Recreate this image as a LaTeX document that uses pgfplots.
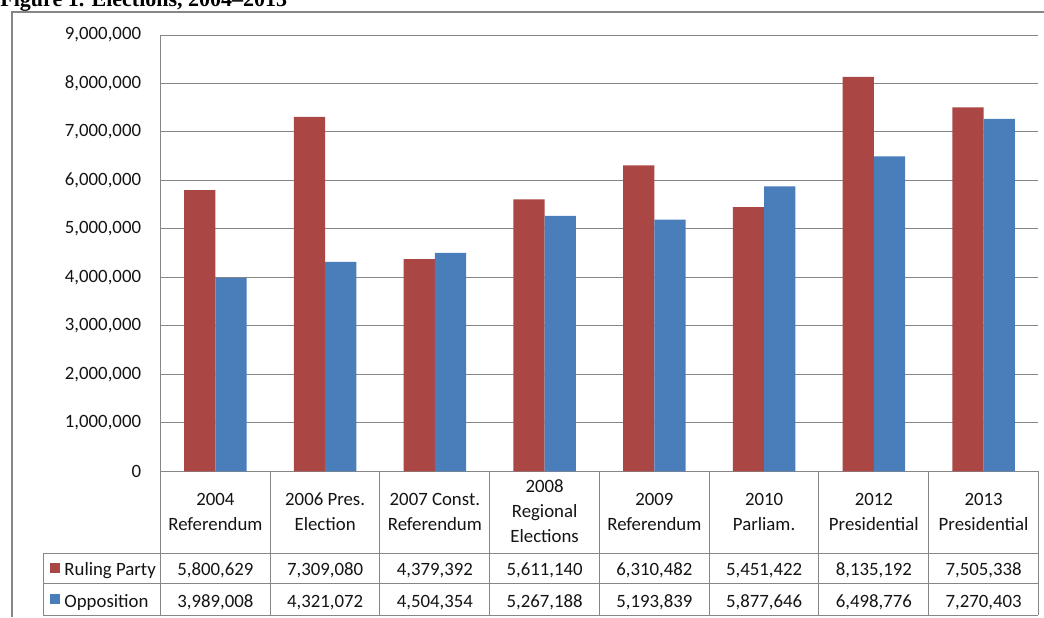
\documentclass[border=0pt]{standalone}
\usepackage{pgfplots}
\pgfplotsset{compat=1.18}
\usepackage{fontspec}
\setmainfont{Carlito}
\newfontfamily\titlefont{Liberation Serif}
\definecolor{ruling}{RGB}{170,70,68}
\definecolor{oppo}{RGB}{74,126,187}
\definecolor{gridc}{RGB}{134,134,134}
\definecolor{txt}{RGB}{20,20,20}

\begin{document}
\begin{tikzpicture}
\path[use as bounding box] (0,0) rectangle (522pt,308.5pt);
\clip (0,0) rectangle (522pt,308.5pt);
\node[anchor=base west, inner sep=0pt, font=\titlefont\bfseries\fontsize{11}{13}\selectfont] at (0pt,305pt) {Figure 1. Elections, 2004–2013};
\draw[gridc, line width=0.75pt] (6pt,0pt) -- (6pt,302.5pt) -- (522pt,302.5pt);
\begin{axis}[
  at={(80.25pt,72.85pt)}, anchor=south west,
  scale only axis, width=439pt, height=218.15pt,
  xmin=0, xmax=8, ymin=0, ymax=9000000,
  axis x line*=bottom, axis y line*=left,
  axis line style={gridc, line width=0.5pt, -},
  xtick=\empty,
  ytick={0,1000000,2000000,3000000,4000000,5000000,6000000,7000000,8000000,9000000},
  ymajorgrids, grid style={gridc, line width=0.5pt},
  major tick length=0pt,
  scaled y ticks=false,
  /pgf/number format/fixed,
  /pgf/number format/precision=0,
  /pgf/number format/1000 sep={,},
  /pgf/number format/assume math mode=true,
  tick label style={font=\fontsize{9.4}{11}\selectfont, text=txt},
  yticklabel style={xshift=-6.2pt},
  clip=false,
  ybar, bar width=0.285,
]
\addplot[fill=ruling, draw=none, bar shift=-0.1425] coordinates {
 (0.5,5800629) (1.5,7309080) (2.5,4379392) (3.5,5611140)
 (4.5,6310482) (5.5,5451422) (6.5,8135192) (7.5,7505338)};
\addplot[fill=oppo, draw=none, bar shift=0.1425] coordinates {
 (0.5,3989008) (1.5,4321072) (2.5,4504354) (3.5,5267188)
 (4.5,5193839) (5.5,5877646) (6.5,6498776) (7.5,7270403)};

% table grid
\draw[gridc, line width=0.5pt]
  (axis cs:-1.0706,-1685300) -- (axis cs:8,-1685300)
  (axis cs:-1.0706,-2304100) -- (axis cs:8,-2304100)
  (axis cs:-1.0706,-2964200) -- (axis cs:8,-2964200)
  (axis cs:-1.0706,-1685300) -- (axis cs:-1.0706,-2964200)
  (axis cs:0,0) -- (axis cs:0,-2964200)
  (axis cs:1,0) -- (axis cs:1,-2964200)
  (axis cs:2,0) -- (axis cs:2,-2964200)
  (axis cs:3,0) -- (axis cs:3,-2964200)
  (axis cs:4,0) -- (axis cs:4,-2964200)
  (axis cs:5,0) -- (axis cs:5,-2964200)
  (axis cs:6,0) -- (axis cs:6,-2964200)
  (axis cs:7,0) -- (axis cs:7,-2964200)
  (axis cs:8,0) -- (axis cs:8,-2964200);

\begin{scope}[every node/.style={font=\fontsize{9.4}{12.5}\selectfont, text=txt, align=center, inner sep=0pt}]
\node at (axis cs:0.5,-830000) {2004\\Referendum};
\node at (axis cs:1.5,-830000) {2006 Pres.\\Election};
\node at (axis cs:2.5,-830000) {2007 Const.\\Referendum};
\node at (axis cs:3.5,-830000) {2008\\Regional\\Elections};
\node at (axis cs:4.5,-830000) {2009\\Referendum};
\node at (axis cs:5.5,-830000) {2010\\Parliam.};
\node at (axis cs:6.5,-830000) {2012\\Presidential};
\node at (axis cs:7.5,-830000) {2013\\Presidential};
\end{scope}

\begin{scope}[every node/.style={font=\fontsize{9.4}{11}\selectfont, text=txt, inner sep=0pt, anchor=base}]
\node at (axis cs:0.5,-2139100) {5,800,629};
\node at (axis cs:1.5,-2139100) {7,309,080};
\node at (axis cs:2.5,-2139100) {4,379,392};
\node at (axis cs:3.5,-2139100) {5,611,140};
\node at (axis cs:4.5,-2139100) {6,310,482};
\node at (axis cs:5.5,-2139100) {5,451,422};
\node at (axis cs:6.5,-2139100) {8,135,192};
\node at (axis cs:7.5,-2139100) {7,505,338};
\node at (axis cs:0.5,-2799200) {3,989,008};
\node at (axis cs:1.5,-2799200) {4,321,072};
\node at (axis cs:2.5,-2799200) {4,504,354};
\node at (axis cs:3.5,-2799200) {5,267,188};
\node at (axis cs:4.5,-2799200) {5,193,839};
\node at (axis cs:5.5,-2799200) {5,877,646};
\node at (axis cs:6.5,-2799200) {6,498,776};
\node at (axis cs:7.5,-2799200) {7,270,403};
\node[anchor=base west] at (axis cs:-0.879,-2139100) {Ruling Party};
\node[anchor=base west] at (axis cs:-0.879,-2799200) {Opposition};
\end{scope}
\fill[ruling] (axis cs:-1.006,-1893200) rectangle (axis cs:-0.915,-2099400);
\fill[oppo] (axis cs:-1.006,-2532600) rectangle (axis cs:-0.915,-2738900);
\end{axis}
\end{tikzpicture}
\end{document}
